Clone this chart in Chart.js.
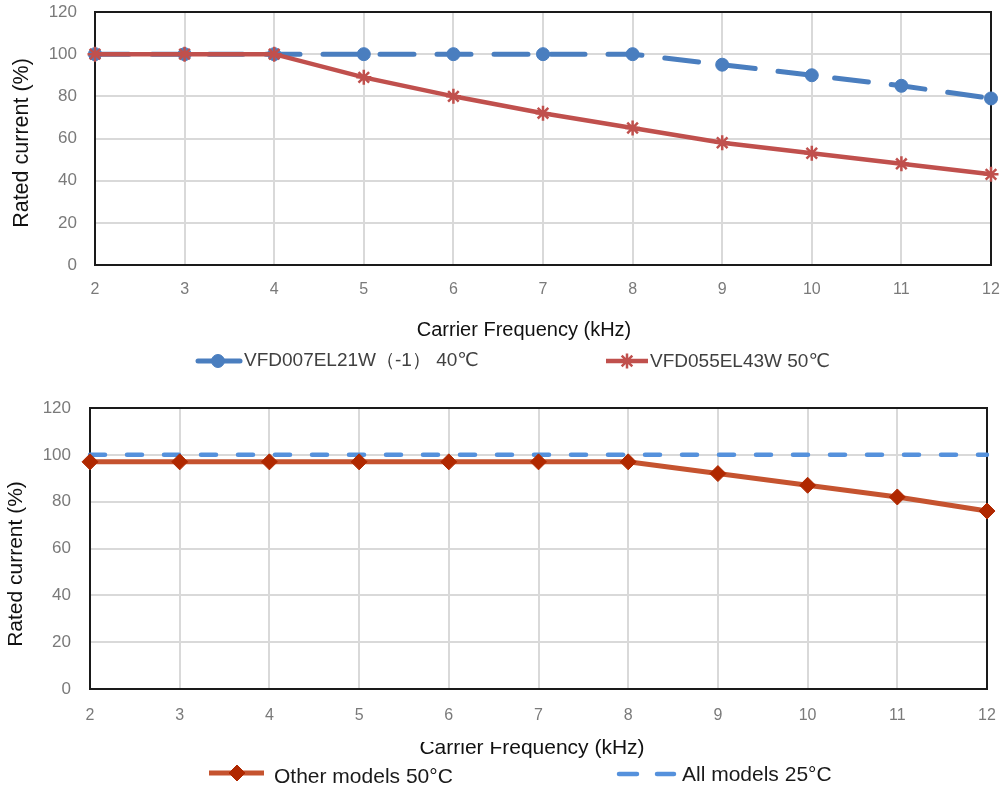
<!DOCTYPE html>
<html>
<head>
<meta charset="utf-8">
<script src="https://cdn.jsdelivr.net/npm/chart.js@4/dist/chart.umd.min.js"></script>
<style>
  html, body { margin: 0; padding: 0; background: #ffffff; }
  #wrap { position: relative; width: 1001px; height: 789px; overflow: hidden; }
  canvas { position: absolute; left: 0; }
  #c1 { top: 0; }
  #c2 { top: 380px; }
</style>
</head>
<body>
<div id="wrap">
  <canvas id="c1" width="1001" height="380"></canvas>
  <canvas id="c2" width="1001" height="409"></canvas>
</div>
<script>
// ---- data ----
const frequencies = ['2', '3', '4', '5', '6', '7', '8', '9', '10', '11', '12'];
const yTickValues = [0, 20, 40, 60, 80, 100, 120];

const topSeriesNames = ['VFD007EL21W（-1） 40℃', 'VFD055EL43W 50℃'];
const topBlueValues = [100, 100, 100, 100, 100, 100, 100, 95, 90, 85, 79];
const topRedValues  = [100, 100, 100, 89, 80, 72, 65, 58, 53, 48, 43];

const bottomSeriesNames = ['Other models 50°C', 'All models 25°C'];
const bottomRedValues  = [97, 97, 97, 97, 97, 97, 97, 92, 87, 82, 76];
const bottomBlueValues = [100, 100, 100, 100, 100, 100, 100, 100, 100, 100, 100];

const xTitle = 'Carrier Frequency (kHz)';
const yTitle = 'Rated current (%)';

// ---- styling ----
const FONT = "'Liberation Sans', Arial, 'DejaVu Sans', sans-serif";
const tickColor = '#7a7a7a';
const gridColor = '#d9d9d9';

Chart.defaults.font.family = FONT;
Chart.defaults.animation = false;

const decorPlugin = {
  id: 'decor',
  beforeDatasetsDraw(chart, args, opts) {
    const {ctx, chartArea: a} = chart;
    ctx.save();
    ctx.strokeStyle = '#1a1a1a';
    ctx.lineWidth = 2;
    ctx.strokeRect(a.left, a.top, a.right - a.left, a.bottom - a.top);
    ctx.restore();
  },
  afterDraw(chart, args, opts) {
    const ctx = chart.ctx;
    ctx.save();
    // axis titles
    ctx.fillStyle = '#111';
    ctx.textAlign = 'center';
    ctx.textBaseline = 'middle';
    ctx.font = opts.xTitleFont;
    ctx.fillText(xTitle, opts.xTitlePos[0], opts.xTitlePos[1]);
    if (opts.titleMask) {
      const m = opts.titleMask;
      ctx.fillStyle = '#ffffff';
      ctx.fillRect(m[0], m[1], m[2], m[3]);
      ctx.fillStyle = '#111';
    }
    ctx.save();
    ctx.font = opts.yTitleFont;
    ctx.translate(opts.yTitlePos[0], opts.yTitlePos[1]);
    ctx.rotate(-Math.PI / 2);
    ctx.fillText(yTitle, 0, 0);
    ctx.restore();
    // legend
    for (const it of opts.legend) {
      const ds = chart.data.datasets[it.index];
      ctx.save();
      ctx.strokeStyle = ds.borderColor;
      ctx.lineWidth = ds.borderWidth;
      ctx.lineCap = ds.borderCapStyle || 'butt';
      ctx.setLineDash(it.dash || []);
      ctx.beginPath();
      ctx.moveTo(it.x0, it.y);
      ctx.lineTo(it.x1, it.y);
      ctx.stroke();
      ctx.setLineDash([]);
      if (ds.pointRadius > 0) {
        ctx.fillStyle = ds.pointBackgroundColor;
        ctx.strokeStyle = ds.pointBorderColor;
        ctx.lineWidth = ds.pointBorderWidth;
        Chart.helpers.drawPoint(ctx, {
          pointStyle: ds.pointStyle, rotation: 0,
          radius: ds.pointRadius, borderWidth: ds.pointBorderWidth
        }, it.mx, it.y);
      }
      ctx.restore();
      ctx.fillStyle = opts.legendColor;
      ctx.font = opts.legendFont;
      ctx.textAlign = 'left';
      ctx.textBaseline = 'middle';
      ctx.fillText(ds.label, it.tx, it.ty);
    }
    ctx.restore();
  }
};

function noPad(s) { s.paddingTop = 0; s.paddingBottom = 0; s.paddingLeft = 0; s.paddingRight = 0; }

function makeScales(yWidth, xHeight, xPad, yPad) {
  return {
    x: {
      type: 'category',
      offset: false,
      grid: { color: gridColor, lineWidth: 2, drawTicks: false },
      border: { display: false },
      ticks: { color: tickColor, font: { size: 16 }, padding: xPad, maxRotation: 0, autoSkip: false },
      afterFit(s) { s.height = xHeight; noPad(s); }
    },
    y: {
      min: 0, max: 120,
      afterBuildTicks(s) { s.ticks = yTickValues.map(v => ({ value: v })); },
      grid: { color: gridColor, lineWidth: 2, drawTicks: false },
      border: { display: false },
      ticks: { color: tickColor, font: { size: 17 }, padding: yPad },
      afterFit(s) { s.width = yWidth; noPad(s); }
    }
  };
}

// ---- top chart ----
new Chart(document.getElementById('c1'), {
  type: 'line',
  data: {
    labels: frequencies,
    datasets: [
      {
        label: topSeriesNames[0],
        data: topBlueValues,
        order: 2,
        borderColor: '#4a7ebf',
        backgroundColor: '#4a7ebf',
        borderWidth: 5,
        borderDash: [34, 23],
        borderCapStyle: 'round',
        tension: 0,
        pointStyle: 'circle',
        pointRadius: 6.5,
        pointBackgroundColor: '#4a7ebf',
        pointBorderColor: '#4a7ebf',
        pointBorderWidth: 1
      },
      {
        label: topSeriesNames[1],
        data: topRedValues,
        order: 1,
        borderColor: '#c0504d',
        backgroundColor: '#c0504d',
        borderWidth: 4.5,
        tension: 0,
        pointStyle: 'star',
        pointRadius: 7.5,
        pointBackgroundColor: '#c0504d',
        pointBorderColor: '#c0504d',
        pointBorderWidth: 2.5
      }
    ]
  },
  options: {
    responsive: false,
    devicePixelRatio: 1,
    layout: { padding: { left: 0, right: 9, top: 12, bottom: 0 } },
    plugins: {
      legend: { display: false },
      tooltip: { enabled: false },
      decor: {
        xTitleFont: "20px " + FONT,
        yTitleFont: "21.5px " + FONT,
        legendFont: "19px " + FONT,
        legendColor: '#404040',
        xTitlePos: [524, 330],
        yTitlePos: [22, 143],
        legend: [
          { index: 0, x0: 198, x1: 240, mx: 218, tx: 244, y: 361, ty: 361 },
          { index: 1, x0: 606, x1: 648, mx: 627, tx: 650, y: 361, ty: 362 }
        ]
      }
    },
    scales: makeScales(95, 115, 15, 18)
  },
  plugins: [decorPlugin]
});

// ---- bottom chart ----
new Chart(document.getElementById('c2'), {
  type: 'line',
  data: {
    labels: frequencies,
    datasets: [
      {
        label: bottomSeriesNames[0],
        data: bottomRedValues,
        order: 1,
        borderColor: '#c5532f',
        backgroundColor: '#c5532f',
        borderWidth: 5,
        tension: 0,
        pointStyle: 'rectRot',
        pointRadius: 8,
        pointBackgroundColor: '#b02800',
        pointBorderColor: '#b02800',
        pointBorderWidth: 1
      },
      {
        label: bottomSeriesNames[1],
        data: bottomBlueValues,
        order: 2,
        borderColor: '#5591dc',
        backgroundColor: '#5591dc',
        borderWidth: 4.5,
        borderDash: [15, 22],
        borderCapStyle: 'round',
        tension: 0,
        pointRadius: 0
      }
    ]
  },
  options: {
    responsive: false,
    devicePixelRatio: 1,
    layout: { padding: { left: 0, right: 14, top: 28, bottom: 0 } },
    plugins: {
      legend: { display: false },
      tooltip: { enabled: false },
      decor: {
        xTitleFont: "21px " + FONT,
        yTitleFont: "21px " + FONT,
        legendFont: "21px " + FONT,
        legendColor: '#1a1a1a',
        xTitlePos: [532, 368],
        titleMask: [410, 350, 124, 12],
        yTitlePos: [16, 184],
        legend: [
          { index: 0, x0: 209, x1: 264, mx: 237, tx: 274, y: 393, ty: 397 },
          { index: 1, x0: 619, x1: 674, mx: 0, tx: 682, y: 394, ty: 395, dash: [18, 20] }
        ]
      }
    },
    scales: makeScales(90, 100, 17, 19)
  },
  plugins: [decorPlugin]
});
</script>
</body>
</html>
